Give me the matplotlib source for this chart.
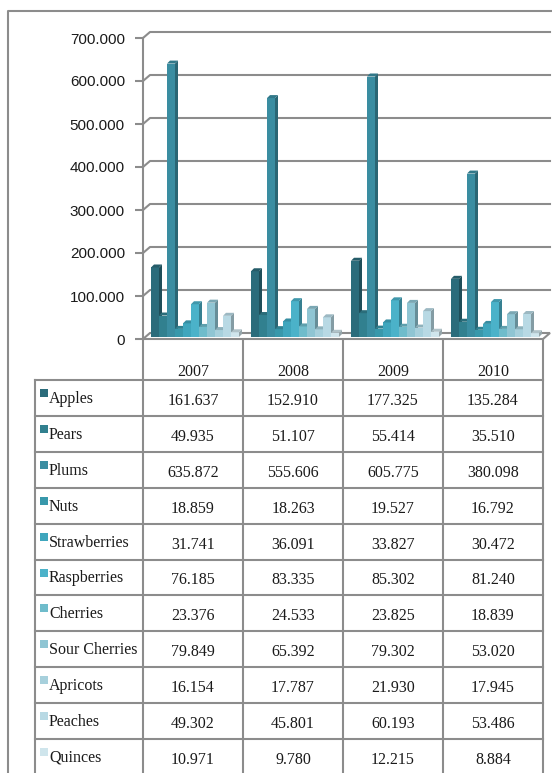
import matplotlib.pyplot as plt
from matplotlib.patches import Polygon, Rectangle
from matplotlib.ticker import FuncFormatter, MultipleLocator
from matplotlib.colors import to_rgb

# ---- data: fruit production by year (tonnes) ----
years = ["2007", "2008", "2009", "2010"]
fruits = ["Apples", "Pears", "Plums", "Nuts", "Strawberries", "Raspberries",
          "Cherries", "Sour Cherries", "Apricots", "Peaches", "Quinces"]

apples = [161637, 152910, 177325, 135284]
pears = [49935, 51107, 55414, 35510]
plums = [635872, 555606, 605775, 380098]
nuts = [18859, 18263, 19527, 16792]
strawberries = [31741, 36091, 33827, 30472]
raspberries = [76185, 83335, 85302, 81240]
cherries = [23376, 24533, 23825, 18839]
sour_cherries = [79849, 65392, 79302, 53020]
apricots = [16154, 17787, 21930, 17945]
peaches = [49302, 45801, 60193, 53486]
quinces = [10971, 9780, 12215, 8884]

production = [apples, pears, plums, nuts, strawberries, raspberries,
              cherries, sour_cherries, apricots, peaches, quinces]

colors = ["#2b6c7b", "#31808f", "#3a8da1", "#3898ab", "#3fa6bd", "#4bb2c9",
          "#6fbccb", "#8fc5d3", "#a7d0dc", "#b8d9e4", "#cfe5ec"]

y_max = 700000
y_step = 100000


def fmt(v):
    return f"{int(round(v)):,}".replace(",", ".")


def shade(c, k):
    r, g, b = to_rgb(c)
    return (r * k, g * k, b * k)


def tint(c, k):
    r, g, b = to_rgb(c)
    return (r + (1 - r) * k, g + (1 - g) * k, b + (1 - b) * k)


# ---- figure & layout ----
W, H = 552, 773
fig = plt.figure(figsize=(W / 100, H / 100), dpi=100)
line_c = "#8c8c8c"
serif = "Liberation Serif"
sans = "Liberation Sans"

lay = fig.add_axes([0, 0, 1, 1])
lay.set_xlim(0, W)
lay.set_ylim(H, 0)
lay.axis("off")

# outer chart border
lay.plot([8, 8, W + 5], [H + 5, 11, 11], color=line_c, lw=1.5, clip_on=False)

x0, x1 = 143, 543
y_top, y_zero = 38, 339
ax = fig.add_axes([x0 / W, 1 - y_zero / H, (x1 - x0) / W, (y_zero - y_top) / H])
ax.set_xlim(0, len(years))
ax.set_ylim(0, y_max)
ax.patch.set_visible(False)
ax.set_zorder(2)

px = len(years) / (x1 - x0)
py = y_max / (y_zero - y_top)

# back wall depth
wall_dx, wall_dy = 7 * px, 6 * py
for v in range(y_step, y_max + 1, y_step):
    ax.plot([0, wall_dx, len(years) + wall_dx], [v, v + wall_dy, v + wall_dy],
            color=line_c, lw=1.5, clip_on=False, zorder=1)

floor = Polygon([(0, 0), (len(years), 0), (len(years) + wall_dx, wall_dy), (wall_dx, wall_dy)],
                closed=True, facecolor="white", edgecolor=line_c, lw=1.5,
                clip_on=False, zorder=1.5)
ax.add_patch(floor)

# 3D-ish clustered columns
bar_w = 8 * px
bar_dx, bar_dy = 3 * px, 3 * py
base_dx, base_dy = 2 * px, 2 * py
group_pad = 6 * px
z = 3
for g in range(len(years)):
    for i, vals in enumerate(production):
        c = colors[i]
        v = vals[g]
        xl = g + group_pad + base_dx + i * bar_w
        yb = base_dy
        xr = xl + bar_w
        front = Rectangle((xl, yb), bar_w, v, facecolor=c, edgecolor="none",
                          clip_on=False, zorder=z)
        side = Polygon([(xr, yb), (xr + bar_dx, yb + bar_dy),
                        (xr + bar_dx, yb + v + bar_dy), (xr, yb + v)],
                       closed=True, facecolor=shade(c, 0.72), edgecolor="none",
                       clip_on=False, zorder=z)
        top = Polygon([(xl, yb + v), (xl + bar_dx, yb + v + bar_dy),
                       (xr + bar_dx, yb + v + bar_dy), (xr, yb + v)],
                      closed=True, facecolor=shade(c, 0.85), edgecolor="none",
                      clip_on=False, zorder=z)
        for p in (side, front, top):
            ax.add_patch(p)
        z += 0.01

ax.yaxis.set_major_locator(MultipleLocator(y_step))
ax.yaxis.set_major_formatter(FuncFormatter(lambda v, p: fmt(v)))
ax.set_xticks([])
for s in ("top", "right", "bottom"):
    ax.spines[s].set_visible(False)
ax.spines["left"].set_color(line_c)
ax.spines["left"].set_linewidth(1.5)
ax.tick_params(axis="y", length=6, width=1.5, color=line_c, pad=7,
               labelsize=11, labelcolor="#1a1a1a")
for t in ax.get_yticklabels():
    t.set_fontfamily(sans)

# ---- data table ----
col_w = (x1 - x0) / len(years)
row_top = 380
row_h = 35.9
label_left = 35
n_rows = len(fruits)

for k in range(n_rows + 1):
    yy = row_top + k * row_h
    lay.plot([label_left, x1], [yy, yy], color=line_c, lw=1.5, clip_on=False)
lay.plot([label_left, label_left], [row_top, H + 5], color=line_c, lw=1.5, clip_on=False)
for j in range(len(years) + 1):
    xx = x0 + j * col_w
    lay.plot([xx, xx], [y_zero, H + 5], color=line_c, lw=1.5, clip_on=False)

for j, yr in enumerate(years):
    lay.text(x0 + (j + 0.5) * col_w, 376, yr, ha="center", va="baseline",
             fontfamily=serif, fontsize=11.5, color="#1a1a1a")

for i, name in enumerate(fruits):
    top_y = row_top + i * row_h
    lay.add_patch(Rectangle((40, top_y + 9), 8, 8, facecolor=colors[i], edgecolor="none"))
    lay.text(49, top_y + 23, name, ha="left", va="baseline",
             fontfamily=serif, fontsize=11.5, color="#1a1a1a")
    for j in range(len(years)):
        lay.text(x0 + (j + 0.5) * col_w, top_y + 25, fmt(production[i][j]),
                 ha="center", va="baseline", fontfamily=serif, fontsize=11.5,
                 color="#1a1a1a")

fig.savefig("out.png", dpi=100)
